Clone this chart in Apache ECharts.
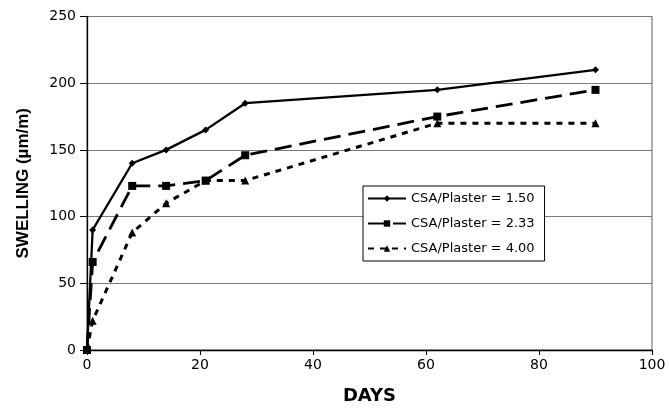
<!DOCTYPE html>
<html>
<head>
<meta charset="utf-8">
<script src="https://cdn.jsdelivr.net/npm/echarts@6/dist/echarts.min.js"></script>
<style>
  html, body { margin: 0; padding: 0; background: #fff; }
  #chart { width: 669px; height: 410px; }
</style>
</head>
<body>
<div id="chart"></div>
<script>
// Swelling measured at each age (days) for three CSA/Plaster ratios
const days = [0, 1, 8, 14, 21, 28, 62, 90];
const swelling150 = [0, 90, 140, 150, 165, 185, 195, 210];
const swelling233 = [0, 66, 123, 123, 127, 146, 175, 195];
const swelling400 = [0, 22, 88, 110, 127, 127, 170, 170];
const seriesNames = ['CSA/Plaster = 1.50', 'CSA/Plaster = 2.33', 'CSA/Plaster = 4.00'];
const yTicks = [0, 50, 100, 150, 200, 250];
const xTicks = [0, 20, 40, 60, 80, 100];

const pairs = vals => days.map((d, i) => [d, vals[i]]);
const tickFont = 'DejaVu Sans, Liberation Sans, sans-serif';

const chart = echarts.init(document.getElementById('chart'), null, { renderer: 'canvas' });
chart.setOption({
  animation: false,
  backgroundColor: '#ffffff',
  grid: {
    left: 87, right: 17, top: 16.5, bottom: 60,
    show: true, borderColor: '#7a7a7a', borderWidth: 1.2, backgroundColor: 'transparent'
  },
  xAxis: {
    type: 'value',
    min: xTicks[0], max: xTicks[xTicks.length - 1], interval: 20,
    name: 'DAYS', nameLocation: 'middle', nameGap: 37,
    nameTextStyle: { fontFamily: tickFont, fontWeight: 'bold', fontSize: 18, color: '#000' },
    axisLine: { lineStyle: { color: '#000', width: 1.3 } },
    axisTick: { show: true, inside: false, length: 5, lineStyle: { color: '#000', width: 1 } },
    axisLabel: { fontFamily: tickFont, fontSize: 14, color: '#000', margin: 8 },
    splitLine: { show: false }
  },
  yAxis: {
    type: 'value',
    min: yTicks[0], max: yTicks[yTicks.length - 1], interval: 50,
    name: 'SWELLING (µm/m)', nameLocation: 'middle', nameGap: 55, nameRotate: 90,
    nameTextStyle: { fontFamily: 'Liberation Sans, Arial, sans-serif', fontWeight: 'bold', fontSize: 17, color: '#000' },
    axisLine: { show: true, lineStyle: { color: '#000', width: 1.3 } },
    axisTick: { show: true, inside: false, length: 7, lineStyle: { color: '#000', width: 1 } },
    axisLabel: { fontFamily: tickFont, fontSize: 14, color: '#000', margin: 11 },
    splitLine: { show: true, lineStyle: { color: '#7a7a7a', width: 1.2 } }
  },
  legend: {
    orient: 'vertical',
    left: 363, top: 186,
    padding: [6, 10, 6, 4],
    itemGap: 12, itemWidth: 38, itemHeight: 8,
    backgroundColor: '#fff',
    borderColor: '#000', borderWidth: 1,
    textStyle: { fontFamily: tickFont, fontSize: 13, color: '#000' },
    data: seriesNames
  },
  series: [
    {
      name: seriesNames[0], type: 'line', data: pairs(swelling150),
      symbol: 'diamond', symbolSize: 7,
      lineStyle: { color: '#000', width: 2.3, type: 'solid' },
      itemStyle: { color: '#000' }
    },
    {
      name: seriesNames[1], type: 'line', data: pairs(swelling233),
      symbol: 'rect', symbolSize: 8,
      lineStyle: { color: '#000', width: 2.8, type: [17, 8] },
      itemStyle: { color: '#000' }
    },
    {
      name: seriesNames[2], type: 'line', data: pairs(swelling400),
      symbol: 'triangle', symbolSize: 8,
      lineStyle: { color: '#000', width: 3, type: [6, 6] },
      itemStyle: { color: '#000' }
    }
  ]
});
</script>
</body>
</html>
